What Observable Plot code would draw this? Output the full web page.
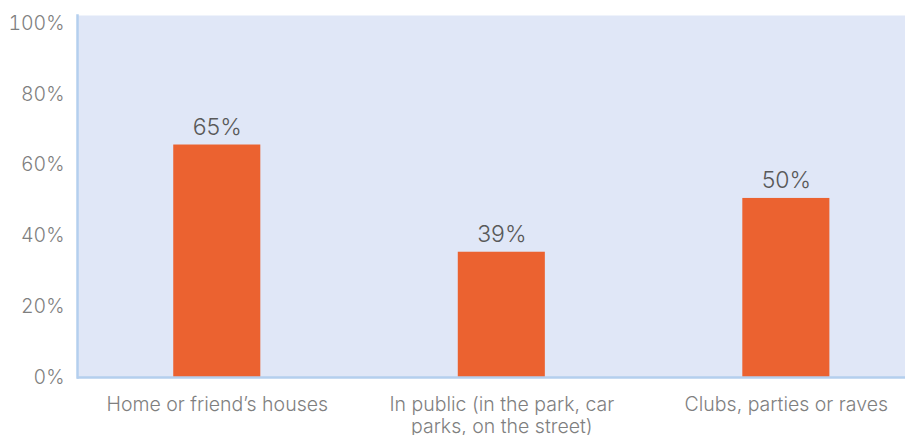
<!DOCTYPE html>
<html><head><meta charset="utf-8">
<script src="https://cdn.jsdelivr.net/npm/d3@7"></script>
<script src="https://cdn.jsdelivr.net/npm/@observablehq/plot@0.6"></script>
<style>body{margin:0;background:#fff}</style>
</head><body><div id="chart"></div>
<script>
const categories = ["Home or friend’s houses", "In public (in the park, car\nparks, on the street)", "Clubs, parties or raves"];
const values = [65.7, 35.4, 50.6];
const valueLabels = ["65%", "39%", "50%"];
const yTicks = [0, 20, 40, 60, 80, 100];
const data = categories.map((c, i) => ({category: c, value: values[i], label: valueLabels[i]}));

const chart = Plot.plot({
  width: 905, height: 435,
  marginLeft: 77, marginRight: 0, marginTop: 15, marginBottom: 58,
  style: {fontFamily: "Inter, 'Noto Sans', sans-serif", background: "#fff"},
  x: {domain: categories, paddingInner: 0.694, paddingOuter: 0.302, align: 0.56, round: false, label: null},
  y: {domain: [0, 102.3], label: null},
  marks: [
    Plot.frame({fill: "#e0e7f7", stroke: null}),
    Plot.barY(data, {x: "category", y: "value", fill: "#eb6230"}),
    Plot.text(data, {x: "category", y: "value", text: "label", dy: -10, lineAnchor: "bottom", fontSize: 23, fontWeight: 300, fill: "#595959"}),
    Plot.ruleY([0], {stroke: "#b4cfee", strokeWidth: 2.5}),
    Plot.frame({anchor: "left", stroke: "#b4cfee", strokeWidth: 2.5}),
    Plot.axisY({ticks: yTicks, tickFormat: d => d + "%", tickSize: 0, tickPadding: 13, fontSize: 19.5, fontWeight: 300, color: "#7f7f7f"}),
    Plot.axisX({tickSize: 0, tickPadding: 19, fontSize: 19.5, fontWeight: 300, lineHeight: 1.08, color: "#7f7f7f", lineAnchor: "top"})
  ]
});
document.getElementById("chart").appendChild(chart);
</script>
</body></html>
